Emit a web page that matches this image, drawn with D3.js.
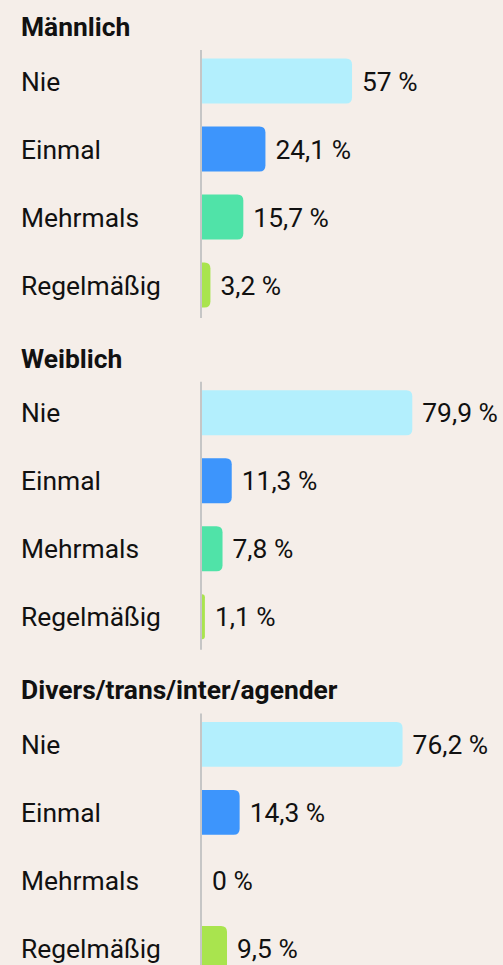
<!DOCTYPE html>
<meta charset="utf-8">
<style>
  body { margin: 0; background: #f5eee9; }
  .label, .value { font-family: Roboto, sans-serif; font-size: 26.4px; fill: #111; }
  .title { font-family: Roboto, sans-serif; font-size: 26.4px; font-weight: bold; fill: #111; }
</style>
<body>
<script src="https://cdn.jsdelivr.net/npm/d3@7"></script>
<script>
  // data
  var groups = ["Männlich", "Weiblich", "Divers/trans/inter/agender"];
  var categories = ["Nie", "Einmal", "Mehrmals", "Regelmäßig"];
  var maennlich = [57, 24.1, 15.7, 3.2];
  var weiblich = [79.9, 11.3, 7.8, 1.1];
  var divers = [76.2, 14.3, 0, 9.5];
  var colors = ["#b3effd", "#3d95fc", "#50e3a8", "#a9e44e"];

  var width = 503, height = 965;
  var groupStep = 331.7;
  var axisX = 202;

  var svg = d3.select("body").append("svg")
    .attr("width", width)
    .attr("height", height);

  var x = d3.scaleLinear().domain([0, 100]).range([axisX, axisX + 263.2]);
  var y = d3.scaleBand().domain(categories).range([47, 319])
    .paddingInner(0.34).paddingOuter(0.17);
  var color = d3.scaleOrdinal().domain(categories).range(colors);

  var fmt = function (v) { return String(v).replace(".", ",") + " %"; };

  // bar with rounded right corners only
  function barPath(x0, y0, w, h, r) {
    if (w <= 0) return "";
    r = Math.min(r, w, h / 2);
    return "M" + x0 + "," + y0 +
      "H" + (x0 + w - r) +
      "Q" + (x0 + w) + "," + y0 + " " + (x0 + w) + "," + (y0 + r) +
      "V" + (y0 + h - r) +
      "Q" + (x0 + w) + "," + (y0 + h) + " " + (x0 + w - r) + "," + (y0 + h) +
      "H" + x0 + "Z";
  }

  var series = [maennlich, weiblich, divers];

  groups.forEach(function (name, gi) {
    var g = svg.append("g").attr("transform", "translate(0," + (gi * groupStep) + ")");
    var rows = categories.map(function (c, i) { return { cat: c, value: series[gi][i] }; });

    g.append("text").attr("class", "title")
      .attr("x", 21).attr("y", 36)
      .text(name);

    g.selectAll("path.bar").data(rows).enter().append("path")
      .attr("class", "bar")
      .attr("d", function (d) { return barPath(x(0), y(d.cat), x(d.value) - x(0), y.bandwidth(), 6); })
      .attr("fill", function (d) { return color(d.cat); });

    g.append("line")
      .attr("x1", axisX - 1).attr("x2", axisX - 1)
      .attr("y1", 50).attr("y2", 318)
      .attr("stroke", "#c6c6c6").attr("stroke-width", 2);

    g.selectAll("text.label").data(rows).enter().append("text")
      .attr("class", "label")
      .attr("x", 21)
      .attr("y", function (d) { return y(d.cat) + y.bandwidth() / 2 + 9.5; })
      .text(function (d) { return d.cat; });

    g.selectAll("text.value").data(rows).enter().append("text")
      .attr("class", "value")
      .attr("x", function (d) { return x(d.value) + 10; })
      .attr("y", function (d) { return y(d.cat) + y.bandwidth() / 2 + 9.5; })
      .text(function (d) { return fmt(d.value); });
  });
</script>
</body>
